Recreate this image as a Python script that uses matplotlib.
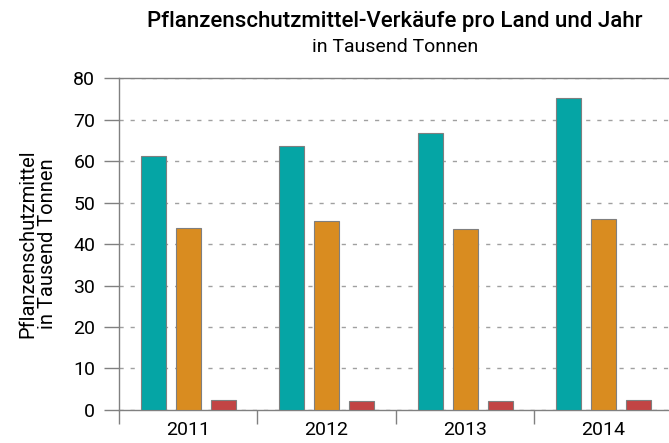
import matplotlib
matplotlib.use("Agg")
import matplotlib.pyplot as plt
import numpy as np

# data
years = ["2011", "2012", "2013", "2014"]
land_a = [61.3, 63.7, 66.7, 75.3]   # teal
land_b = [43.8, 45.5, 43.6, 46.0]   # orange
land_c = [2.3, 2.2, 2.2, 2.3]       # red

colors = ["#05a5a5", "#d98c20", "#c24444"]
plt.rcParams["font.family"] = ["Roboto", "DejaVu Sans"]

fig = plt.figure(figsize=(6.69, 4.43), dpi=100)
ax = fig.add_axes([0.1777, 0.0745, 0.828, 0.7494])

x = np.arange(len(years))
w = 0.18
step = 0.253
for i, (vals, c) in enumerate(zip([land_a, land_b, land_c], colors)):
    ax.bar(x + (i - 1) * step, vals, width=w, color=c,
           edgecolor="#7f7f7f", linewidth=0.8, zorder=3)

ax.set_xlim(-0.5, len(years) - 0.5)
ax.set_ylim(0, 80)
ax.set_yticks(range(0, 81, 10))
ax.yaxis.grid(True, linestyle=(0, (3, 5)), color="#a0a0a0", linewidth=1.0, zorder=0)

# year labels centred, ticks on group borders
ax.set_xticks(x)
ax.set_xticklabels(years, fontsize=14)
ax.set_xticks(np.arange(len(years) + 1) - 0.5, minor=True)
ax.tick_params(axis="x", which="major", length=0, pad=8)
ax.tick_params(axis="x", which="minor", length=10, color="#808080", width=1)
ax.tick_params(axis="y", length=11, color="#808080", width=1, labelsize=14, pad=6)

ax.spines["right"].set_visible(False)
for s in ["left", "bottom", "top"]:
    ax.spines[s].set_color("#808080")
    ax.spines[s].set_linewidth(1.0)

ax.set_ylabel("Pflanzenschutzmittel\nin Tausend Tonnen", fontsize=14.5, linespacing=1.0, labelpad=12)

fig.text(0.59, 0.952, "Pflanzenschutzmittel-Verkäufe pro Land und Jahr",
         ha="center", va="center", fontsize=16, fontweight="medium")
fig.text(0.59, 0.895, "in Tausend Tonnen", ha="center", va="center", fontsize=14)

fig.savefig("out.png", dpi=100)
